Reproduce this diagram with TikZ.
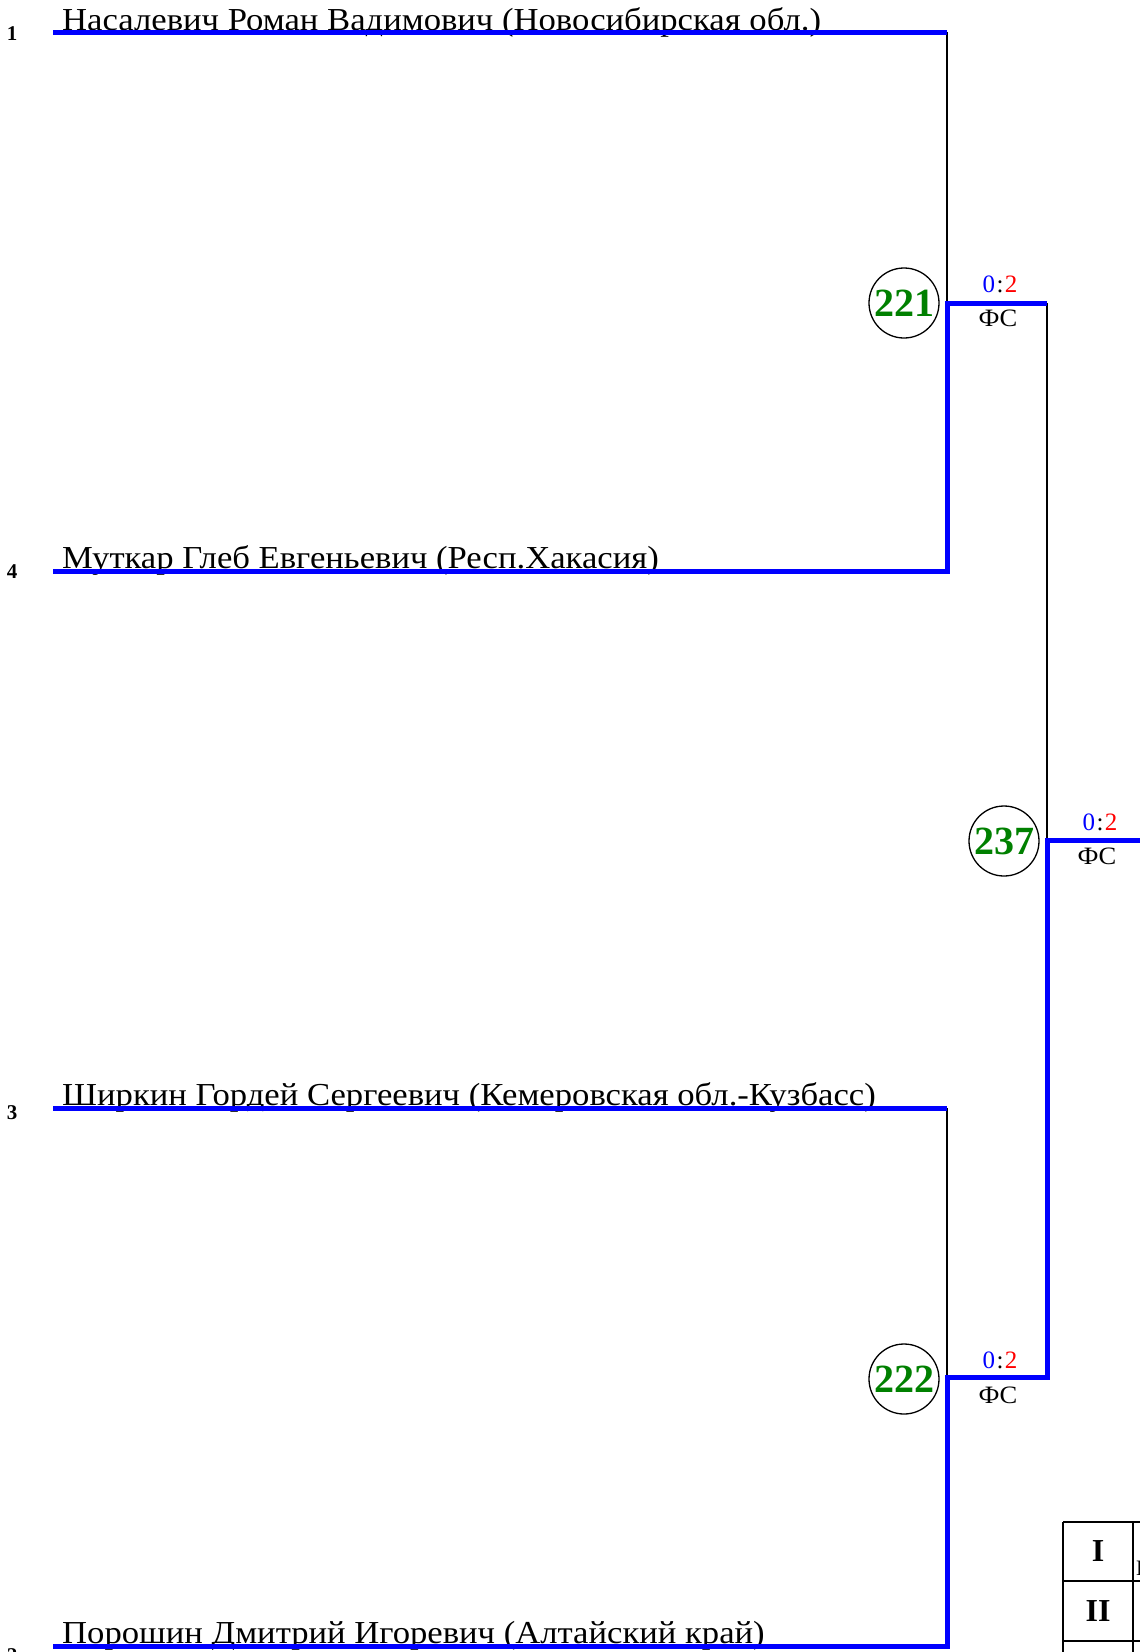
\documentclass[tikz,border=0pt]{standalone}
\usepackage{fontspec}
\setmainfont{Liberation Serif}
\definecolor{wblue}{RGB}{0,0,255}
\definecolor{sred}{RGB}{255,0,0}
\definecolor{mgreen}{RGB}{0,128,0}
\newcommand{\wtext}[2]{\scalebox{#1}[1]{#2}}
\newcommand{\scoretext}{\textcolor{wblue}{0}\kern1.5pt:\kern1.5pt\textcolor{sred}{2}}
\begin{document}
\begin{tikzpicture}[x=1pt,y=-1pt,
  winline/.style={draw=wblue, line width=5pt, line join=miter},
  thinline/.style={draw=black, line width=1.4pt},
  tabline/.style={draw=black, line width=2pt},
  namelabel/.style={anchor=base west, inner sep=0, font=\fontsize{32}{32}\selectfont},
  seednum/.style={anchor=center, inner sep=0, font=\bfseries\fontsize{21}{21}\selectfont},
  matchno/.style={circle, draw=black, line width=1.3pt, minimum size=70pt, inner sep=0, text=mgreen, font=\bfseries\fontsize{40}{40}\selectfont},
  scorelabel/.style={anchor=center, inner sep=0, font=\fontsize{25}{25}\selectfont},
  tabcell/.style={anchor=center, inner sep=0, font=\bfseries\fontsize{32}{32}\selectfont},
]
\useasboundingbox (0,0) rectangle (1140,1652);
% endpoints
\coordinate (a1) at (53,32);   \coordinate (b1) at (947,32);
\coordinate (a4) at (53,571);  \coordinate (b4) at (947,571);
\coordinate (a3) at (53,1108); \coordinate (b3) at (947,1108);
\coordinate (a2) at (53,1646); \coordinate (b2) at (947,1646);
\coordinate (j221) at (947,303);  \coordinate (e221) at (1047,303);
\coordinate (j222) at (947,1377); \coordinate (e222) at (1047,1377);
\coordinate (j237) at (1047,840); \coordinate (e237) at (1150,840);
% seeds
\node[seednum] (s1) at (12,34) {1};
\node[seednum] (s4) at (12,572) {4};
\node[seednum] (s3) at (12,1113) {3};
\node[seednum] (s2) at (12,1656) {2};
% names
\node[namelabel] (n1) at (62,30) {\wtext{1.083}{Насалевич Роман Вадимович (Новосибирская обл.)}};
\node[namelabel] (n4) at (62,568) {\wtext{1.083}{Муткар Глеб Евгеньевич (Респ.Хакасия)}};
\node[namelabel] (n3) at (62,1105) {\wtext{1.083}{Ширкин Гордей Сергеевич (Кемеровская обл.-Кузбасс)}};
\node[namelabel] (n2) at (62,1643) {\wtext{1.083}{Порошин Дмитрий Игоревич (Алтайский край)}};
% black (losing) connectors
\draw[thinline] (b1) -- (j221);
\draw[thinline] (b3) -- (j222);
\draw[thinline] (e221) -- (j237);
% blue lines
\draw[winline] (a1) -- (b1);
\draw[winline] (a3) -- (b3);
\draw[winline] (a4) -- (b4) -- (j221) -- (e221);
\draw[winline] (a2) -- (b2) -- (j222) -- (e222) -- (j237) -- (e237);
% match circles
\node[matchno] (m221) at (904,303) {221};
\node[matchno] (m237) at (1004,841) {237};
\node[matchno] (m222) at (904,1379) {222};
% scores
\node[scorelabel] (sc221) at (1000,284) {\scoretext};
\node[scorelabel] (fs221) at (998,318) {\wtext{1.06}{ФС}};
\node[scorelabel] (sc237) at (1100,822) {\scoretext};
\node[scorelabel] (fs237) at (1097,856) {\wtext{1.06}{ФС}};
\node[scorelabel] (sc222) at (1000,1360) {\scoretext};
\node[scorelabel] (fs222) at (998,1395) {\wtext{1.06}{ФС}};
% table
\coordinate (t1) at (1063,1522); \coordinate (t2) at (1160,1522);
\coordinate (t3) at (1063,1581); \coordinate (t4) at (1160,1581);
\coordinate (t5) at (1063,1641); \coordinate (t6) at (1160,1641);
\coordinate (t7) at (1063,1660); \coordinate (c1) at (1133,1522); \coordinate (c2) at (1133,1660);
\draw[tabline] (t1) -- (t2);
\draw[tabline] (t3) -- (t4);
\draw[tabline] (t5) -- (t6);
\draw[tabline] (t1) -- (t7);
\draw[tabline] (c1) -- (c2);
\node[tabcell] (p1) at (1098,1551) {I};
\node[tabcell] (p2) at (1098,1611) {II};
\node[anchor=base west, inner sep=0, font=\fontsize{22}{22}\selectfont] (p1name) at (1136,1575) {Н};
\end{tikzpicture}
\end{document}
